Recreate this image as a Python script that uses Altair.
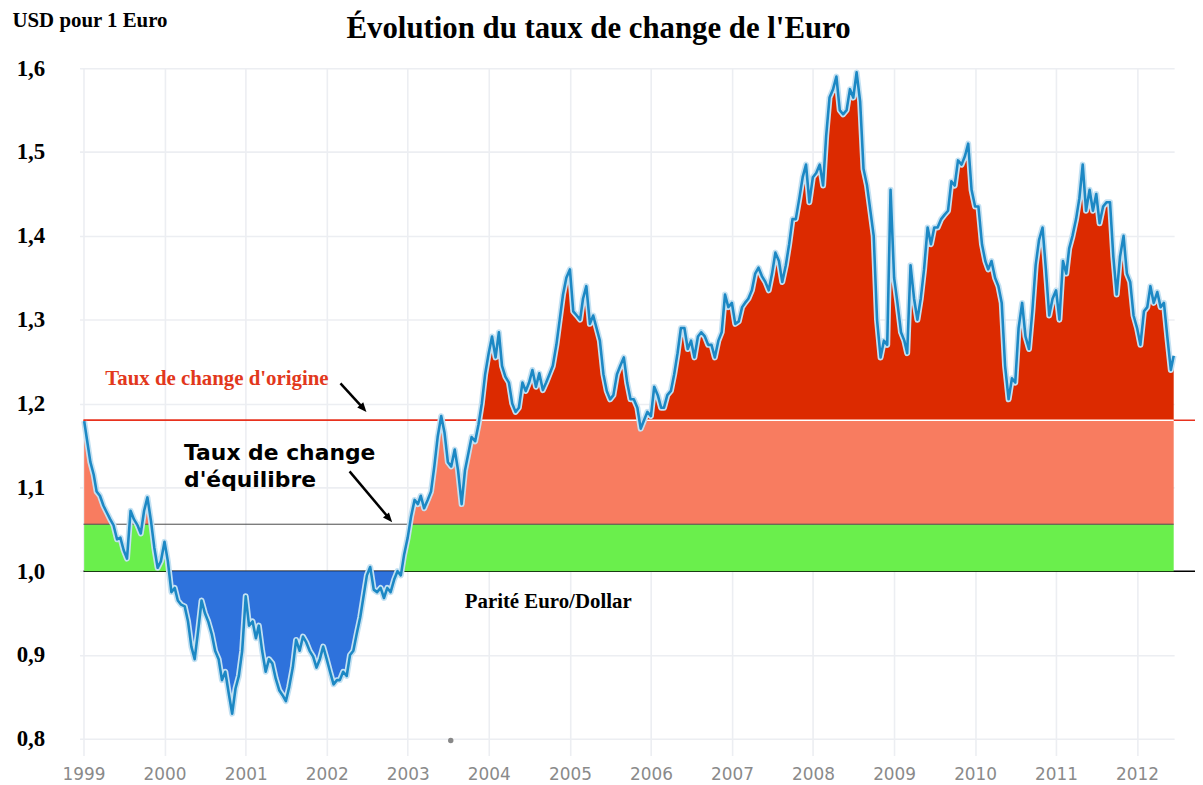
import altair as alt
import pandas as pd

# ---- EUR/USD: semi-monthly samples (1st and 16th) ----
v1999 = [1.179, 1.158, 1.130, 1.115, 1.095, 1.090, 1.078, 1.070, 1.062, 1.055, 1.038, 1.040,
         1.025, 1.015, 1.072, 1.062, 1.055, 1.045, 1.072, 1.088, 1.060, 1.028, 1.004, 1.012]
v2000 = [1.035, 1.012, 0.975, 0.980, 0.965, 0.960, 0.958, 0.940, 0.910, 0.895, 0.930, 0.965,
         0.950, 0.940, 0.925, 0.905, 0.895, 0.870, 0.880, 0.855, 0.830, 0.860, 0.875, 0.905]
v2001 = [0.970, 0.935, 0.940, 0.920, 0.935, 0.905, 0.880, 0.895, 0.890, 0.872, 0.858, 0.852,
         0.845, 0.862, 0.885, 0.918, 0.905, 0.922, 0.915, 0.905, 0.898, 0.885, 0.895, 0.910]
v2002 = [0.895, 0.880, 0.865, 0.870, 0.870, 0.880, 0.875, 0.900, 0.905, 0.925, 0.945, 0.970,
         0.995, 1.005, 0.978, 0.975, 0.980, 0.968, 0.980, 0.975, 0.990, 1.000, 0.995, 1.020]
v2003 = [1.040, 1.065, 1.085, 1.080, 1.090, 1.075, 1.085, 1.095, 1.125, 1.160, 1.185, 1.165,
         1.130, 1.125, 1.145, 1.120, 1.080, 1.120, 1.140, 1.160, 1.155, 1.175, 1.200, 1.235]
v2004 = [1.260, 1.280, 1.255, 1.285, 1.245, 1.232, 1.225, 1.200, 1.190, 1.195, 1.225, 1.215,
         1.225, 1.240, 1.220, 1.236, 1.216, 1.225, 1.235, 1.245, 1.270, 1.300, 1.330, 1.350]
v2005 = [1.360, 1.310, 1.305, 1.300, 1.325, 1.340, 1.295, 1.305, 1.290, 1.275, 1.235, 1.215,
         1.205, 1.210, 1.235, 1.245, 1.255, 1.225, 1.205, 1.205, 1.195, 1.170, 1.180, 1.190]
v2006 = [1.185, 1.220, 1.210, 1.195, 1.195, 1.210, 1.215, 1.235, 1.260, 1.290, 1.290, 1.265,
         1.275, 1.255, 1.280, 1.285, 1.280, 1.270, 1.270, 1.255, 1.275, 1.285, 1.330, 1.315]
v2007 = [1.320, 1.295, 1.298, 1.315, 1.320, 1.325, 1.335, 1.355, 1.362, 1.352, 1.345, 1.335,
         1.355, 1.380, 1.370, 1.345, 1.365, 1.390, 1.420, 1.420, 1.445, 1.470, 1.485, 1.440]
v2008 = [1.470, 1.475, 1.485, 1.460, 1.520, 1.565, 1.575, 1.590, 1.550, 1.545, 1.550, 1.575,
         1.565, 1.595, 1.560, 1.480, 1.460, 1.430, 1.400, 1.300, 1.255, 1.275, 1.270, 1.455]
v2009 = [1.350, 1.320, 1.285, 1.275, 1.260, 1.365, 1.325, 1.300, 1.325, 1.360, 1.410, 1.390,
         1.410, 1.410, 1.420, 1.425, 1.430, 1.465, 1.460, 1.490, 1.485, 1.495, 1.510, 1.455]
v2010 = [1.435, 1.435, 1.390, 1.370, 1.360, 1.370, 1.350, 1.340, 1.320, 1.245, 1.205, 1.230,
         1.225, 1.290, 1.320, 1.280, 1.265, 1.310, 1.365, 1.395, 1.410, 1.360, 1.305, 1.325]
v2011 = [1.335, 1.300, 1.370, 1.355, 1.385, 1.400, 1.420, 1.445, 1.485, 1.430, 1.455, 1.430,
         1.450, 1.415, 1.435, 1.440, 1.440, 1.375, 1.330, 1.375, 1.400, 1.355, 1.345, 1.305]
v2012 = [1.290, 1.270, 1.310, 1.315, 1.340, 1.320, 1.333, 1.315, 1.320, 1.280, 1.240, 1.257]

rate = v1999 + v2000 + v2001 + v2002 + v2003 + v2004 + v2005 + v2006 + v2007 + v2008 + v2009 + v2010 + v2011 + v2012

dates = []
for yy in range(1999, 2013):
    for mm in range(1, 13):
        for dd in (1, 16):
            dates.append(f"{yy}-{mm:02d}-{dd:02d}")
dates[0] = "1999-01-04"
dates = dates[:len(rate) - 1] + ["2012-06-14"]

PARITE = 1.0
EQUILIBRE = 1.056
ORIGINE = 1.18

year_labels = list(range(1999, 2013))
y_ticks = [0.8, 0.9, 1.0, 1.1, 1.2, 1.3, 1.4, 1.5, 1.6]

df = pd.DataFrame({"date": dates, "rate": rate})
df["base_par"] = PARITE
df["base_eq"] = EQUILIBRE
df["base_or"] = ORIGINE
df["green_top"] = df["rate"].clip(PARITE, EQUILIBRE)
df["blue_bot"] = df["rate"].clip(upper=PARITE)
df["salmon_top"] = df["rate"].clip(EQUILIBRE, ORIGINE)
df["red_top"] = df["rate"].clip(lower=ORIGINE)

# reference lines
under_df = pd.DataFrame({
    "start": ["1999-01-01", "1999-01-01"],
    "end": ["2012-10-25", "2012-10-25"],
    "level": [PARITE, ORIGINE],
    "col": ["#000000", "#e8321e"],
})
over_df = pd.DataFrame({
    "start": ["1999-01-01", "1999-01-01", "2003-11-20"],
    "end": ["2012-06-14", "2003-11-20", "2012-06-14"],
    "level": [EQUILIBRE, ORIGINE, ORIGINE],
    "col": ["#4a4a4a", "#e8321e", "#ffffff"],
    "w": [1.0, 1.6, 1.6],
})

# annotations (text placed in data coordinates)
ann_title = pd.DataFrame({"date": ["2005-05-10"], "value": [1.6365],
                          "label": ["Évolution du taux de change de l'Euro"]})
ann_origin = pd.DataFrame({"date": ["1999-04-09"], "value": [1.229], "label": ["Taux de change d'origine"]})
ann_equil = pd.DataFrame({"date": ["2000-03-29", "2000-03-29"], "value": [1.1415, 1.1083],
                          "label": ["Taux de change", "d'équilibre"]})
ann_parite = pd.DataFrame({"date": ["2003-09-15"], "value": [0.9626], "label": ["Parité Euro/Dollar"]})
arrows = pd.DataFrame({
    "x0": ["2002-03-04", "2002-04-14"],
    "y0": [1.224, 1.119],
    "xe": ["2002-06-12", "2002-10-06"],
    "ye": [1.195, 1.064],
    "x1": ["2002-06-29", "2002-10-23"],
    "y1": [1.190, 1.0585],
})
dot = pd.DataFrame({"date": ["2003-07-14"], "value": [0.798]})

xscale = alt.Scale(type="utc", domain=[alt.DateTime(year=1998, month=12, date=14, utc=True),
                                       alt.DateTime(year=2012, month=6, date=16, utc=True)])
yscale = alt.Scale(domain=[0.78, 1.6], nice=False, zero=False)

xaxis = alt.Axis(
    values=[alt.DateTime(year=y, month=1, date=1, utc=True) for y in year_labels],
    format="%Y", title=None, ticks=False, domain=False, labelFlush=False,
    labelFont="DejaVu Sans", labelFontSize=17, labelColor="#8a8a8a", labelPadding=11,
    gridColor="#eceef2", gridWidth=1.6,
)
yaxis = alt.Axis(
    values=y_ticks, format=".1f", labelExpr="replace(datum.label, '.', ',')",
    ticks=False, domain=False, labelFlush=False, labelBaseline="middle",
    labelFont="Liberation Serif", labelFontSize=23, labelFontWeight="bold", labelColor="#000000",
    labelPadding=35, gridColor="#eceef2", gridWidth=1.6,
    title="USD pour 1 Euro", titleAngle=0, titleX=-68, titleY=-48, titleAlign="left",
    titleBaseline="middle", titleFont="Liberation Serif", titleFontSize=21,
    titleFontWeight="bold", titleColor="#000000",
)


def X(field):
    return alt.X(field, type="temporal", scale=xscale, axis=xaxis)


def Y(field):
    return alt.Y(field, type="quantitative", scale=yscale, axis=yaxis)


rules_under = alt.Chart(under_df).mark_rule(strokeWidth=1.5).encode(
    x=X("start"), x2="end:T", y=Y("level"),
    color=alt.Color("col:N", scale=None),
)

base = alt.Chart(df)
green = base.mark_area(color="#6aef4c").encode(x=X("date"), y=Y("base_par"), y2="green_top:Q")
blue = base.mark_area(color="#2e72dc").encode(x=X("date"), y=Y("blue_bot"), y2="base_par:Q")
salmon = base.mark_area(color="#f87c60").encode(x=X("date"), y=Y("base_eq"), y2="salmon_top:Q")
red = base.mark_area(color="#dc2a00").encode(x=X("date"), y=Y("base_or"), y2="red_top:Q")

rules_over = alt.Chart(over_df).mark_rule().encode(
    x=X("start"), x2="end:T", y=Y("level"),
    color=alt.Color("col:N", scale=None),
    strokeWidth=alt.StrokeWidth("w:Q", scale=None),
)

halo = base.mark_line(color="#c4e1f2", strokeWidth=6, strokeJoin="round").encode(x=X("date"), y=Y("rate"))
line = base.mark_line(color="#1c88c4", strokeWidth=2.6, strokeJoin="round").encode(x=X("date"), y=Y("rate"))

t_title = alt.Chart(ann_title).mark_text(
    align="center", baseline="alphabetic", font="Liberation Serif", fontSize=31,
    fontWeight="bold", color="#000000",
).encode(x=X("date"), y=Y("value"), text="label:N")
t_origin = alt.Chart(ann_origin).mark_text(
    align="left", baseline="middle", font="Liberation Serif", fontSize=21,
    fontWeight="bold", color="#e2381c",
).encode(x=X("date"), y=Y("value"), text="label:N")
t_equil = alt.Chart(ann_equil).mark_text(
    align="left", baseline="middle", font="DejaVu Sans", fontSize=22,
    fontWeight="bold", color="#000000",
).encode(x=X("date"), y=Y("value"), text="label:N")
t_parite = alt.Chart(ann_parite).mark_text(
    align="left", baseline="middle", font="Liberation Serif", fontSize=21,
    fontWeight="bold", color="#000000",
).encode(x=X("date"), y=Y("value"), text="label:N")

arrow_lines = alt.Chart(arrows).mark_rule(color="#000000", strokeWidth=2.5).encode(
    x=X("x0"), x2="xe:T", y=Y("y0"), y2="ye:Q")
arrow_heads = alt.Chart(arrows).mark_point(
    shape="M0,0L-0.42,1L0.42,1Z", filled=True, size=360, color="#000000", opacity=1, angle=139,
).encode(x=X("x1"), y=Y("y1"))

dot_mark = alt.Chart(dot).mark_point(filled=True, size=30, color="#888888", opacity=1).encode(
    x=X("date"), y=Y("value"))

chart = alt.layer(
    rules_under, green, blue, salmon, red, rules_over, halo, line,
    t_title, t_origin, t_equil, t_parite, arrow_lines, arrow_heads, dot_mark,
).properties(
    width=1102, height=692,
    padding={"left": 72, "top": 58, "right": 21, "bottom": 27},
    autosize=alt.AutoSizeParams(type="none"),
).configure(background="#ffffff").configure_view(stroke=None)

chart.save("out.html", embed_options={"renderer": "svg", "actions": False})
